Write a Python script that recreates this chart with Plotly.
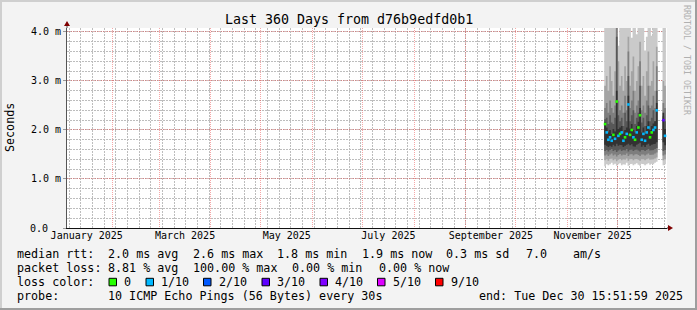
import plotly.graph_objects as go
import pandas as pd

# ---------------- data ----------------
days = ["2025-11-23", "2025-11-24", "2025-11-25", "2025-11-26", "2025-11-27", "2025-11-28",
        "2025-11-29", "2025-11-30", "2025-12-01", "2025-12-02", "2025-12-03", "2025-12-04",
        "2025-12-05", "2025-12-06", "2025-12-07", "2025-12-08", "2025-12-09", "2025-12-10",
        "2025-12-11", "2025-12-12", "2025-12-13", "2025-12-14", "2025-12-15", "2025-12-16",
        "2025-12-17", "2025-12-18", "2025-12-19", "2025-12-20", "2025-12-21", "2025-12-22",
        "2025-12-23", "2025-12-24", "2025-12-28", "2025-12-29"]

median = [2.12, 1.95, 1.80, 1.85, 1.78, 1.90, 1.82, 2.58, 1.88, 1.92, 1.95, 1.78,
          1.85, 1.92, 2.52, 1.90, 2.00, 1.85, 1.80, 1.95, 2.05, 2.30, 1.80, 1.92,
          1.78, 1.95, 2.05, 1.85, 1.95, 2.00, 2.05, 2.40, 2.20, 1.88]
loss = [0, 1, 1, 1, 1, 0, 1, 0, 1, 0, 1, 1,
        0, 1, 1, 0, 0, 1, 0, 1, 0, 0, 1, 1,
        1, 1, 1, 0, 0, 1, 1, 1, 3, 1]

hi1 = [4.5, 4.5, 4.5, 4.5, 4.5, 4.5, 4.5, 4.5, 3.72, 4.5, 4.5, 4.5,
       4.5, 4.5, 4.5, 4.5, 3.88, 4.5, 4.5, 3.95, 4.5, 4.5, 4.5, 4.5,
       3.62, 3.90, 4.5, 4.5, 3.92, 4.5, 4.5, 4.5, 4.5, 4.5]
lo1 = [1.26, 1.30, 1.28, 1.30, 1.33, 1.29, 1.31, 1.27, 1.30, 1.32, 1.28, 1.30,
       1.29, 1.33, 1.27, 1.30, 1.31, 1.28, 1.30, 1.32, 1.29, 1.27, 1.31, 1.30,
       1.28, 1.30, 1.32, 1.29, 1.31, 1.30, 1.33, 1.35, 1.28, 1.30]
hi2 = [2.9, 3.1, 2.8, 3.3, 3.0, 2.7, 3.2, 4.5, 3.4, 2.9, 3.1, 2.8,
       3.3, 3.0, 3.9, 2.9, 3.2, 3.5, 2.8, 3.0, 3.3, 3.8, 2.9, 3.1,
       2.7, 3.2, 3.6, 2.9, 3.0, 3.4, 2.8, 3.7, 3.0, 2.9]
lo2 = [1.38, 1.40, 1.37, 1.41, 1.42, 1.38, 1.40, 1.36, 1.39, 1.41, 1.38, 1.40,
       1.39, 1.42, 1.37, 1.40, 1.41, 1.38, 1.40, 1.41, 1.39, 1.37, 1.40, 1.40,
       1.38, 1.40, 1.42, 1.39, 1.40, 1.40, 1.42, 1.44, 1.38, 1.40]
hi3 = [2.45, 2.55, 2.35, 2.6, 2.45, 2.35, 2.5, 4.2, 2.6, 2.4, 2.5, 2.35,
       2.7, 2.4, 3.6, 2.45, 2.6, 2.8, 2.35, 2.5, 2.6, 3.4, 2.4, 2.5,
       2.35, 2.6, 2.9, 2.45, 2.5, 2.7, 2.45, 3.3, 2.55, 2.45]
lo3 = [1.48, 1.50, 1.47, 1.50, 1.52, 1.48, 1.50, 1.46, 1.49, 1.51, 1.48, 1.50,
       1.49, 1.52, 1.47, 1.50, 1.51, 1.48, 1.50, 1.51, 1.49, 1.47, 1.50, 1.50,
       1.48, 1.50, 1.52, 1.49, 1.50, 1.50, 1.52, 1.54, 1.48, 1.50]
hi4 = [2.22, 2.25, 2.12, 2.30, 2.15, 2.12, 2.25, 3.90, 2.30, 2.18, 2.25, 2.08,
       2.35, 2.18, 3.10, 2.18, 2.30, 2.40, 2.12, 2.25, 2.35, 2.90, 2.15, 2.25,
       2.08, 2.30, 2.50, 2.18, 2.25, 2.40, 2.18, 2.80, 2.28, 2.18]
lo4 = [1.57, 1.59, 1.56, 1.59, 1.61, 1.57, 1.59, 1.55, 1.58, 1.60, 1.57, 1.59,
       1.58, 1.61, 1.56, 1.59, 1.60, 1.57, 1.59, 1.60, 1.58, 1.56, 1.59, 1.59,
       1.57, 1.59, 1.61, 1.58, 1.59, 1.59, 1.61, 1.63, 1.57, 1.59]
hi5 = [2.15, 2.05, 1.95, 2.00, 1.92, 2.02, 1.97, 2.80, 2.02, 2.05, 2.08, 1.93,
       2.00, 2.05, 2.70, 2.03, 2.12, 2.00, 1.95, 2.08, 2.17, 2.45, 1.95, 2.05,
       1.93, 2.08, 2.18, 2.00, 2.08, 2.13, 2.18, 2.55, 2.35, 2.02]
lo5 = [1.70, 1.68, 1.65, 1.68, 1.66, 1.70, 1.67, 1.72, 1.68, 1.70, 1.69, 1.65,
       1.68, 1.70, 1.72, 1.69, 1.71, 1.67, 1.66, 1.70, 1.72, 1.74, 1.66, 1.69,
       1.65, 1.70, 1.72, 1.68, 1.70, 1.71, 1.72, 1.75, 1.75, 1.69]

y_ticks = [0, 1, 2, 3, 4]
y_tick_labels = ["", "1.0 m", "2.0 m", "3.0 m", "4.0 m"]
y_zero_label = "0.0"
label_months = ["2025-01-01", "2025-03-01", "2025-05-01", "2025-07-01", "2025-09-01", "2025-11-01"]
label_texts = ["January 2025", "March 2025", "May 2025", "July 2025", "September 2025", "November 2025"]
x_start = "2025-01-04 15:51:59"
x_end = "2025-12-30 15:51:59"

loss_colors = {0: "#26ff00", 1: "#00b8ff", 2: "#0059ff", 3: "#5e00ff",
               4: "#7e00ff", 5: "#dd00ff", 9: "#ff0000"}
loss_names = ["0", "1/10", "2/10", "3/10", "4/10", "5/10", "9/10"]
loss_keys = [0, 1, 2, 3, 4, 5, 9]

legend_rows = [
    [("median rtt:", 16), ("2.0 ms avg", 107), ("2.6 ms max", 192), ("1.8 ms min", 276),
     ("1.9 ms now", 361), ("0.3 ms sd", 445), ("7.0", 525), ("am/s", 572)],
    [("packet loss:", 16), ("8.81 % avg", 107), ("100.00 % max", 192), ("0.00 % min", 291),
     ("0.00 % now", 378)],
    [("loss color:", 16)],
    [("probe:", 16), ("10 ICMP Echo Pings (56 Bytes) every 30s", 107),
     ("end: Tue Dec 30 15:51:59 2025", 478)],
]
swatch_x = [109, 146, 203.5, 262, 320, 377.5, 435.5]

# ---------------- geometry helpers ----------------
W, H = 697, 310
L, R, T, B = 67, 667, 28, 228
MONO = "DejaVu Sans Mono"


def fx(px):
    return (px - L) / (R - L)


def fy(py):
    return (B - py) / (B - T)


d = pd.to_datetime(days)
one = pd.Timedelta(days=1)

segments = []
cur = [0]
for i in range(1, len(d)):
    if d[i] - d[i - 1] == one:
        cur.append(i)
    else:
        segments.append(cur)
        cur = [i]
segments.append(cur)


def band(lo, hi):
    xs, ys = [], []
    for seg in segments:
        for i in seg:
            xs += [d[i], d[i] + one]
            ys += [hi[i], hi[i]]
        for i in reversed(seg):
            xs += [d[i] + one, d[i]]
            ys += [lo[i], lo[i]]
        xs.append(None)
        ys.append(None)
    return xs, ys


month_starts = [t.strftime("%Y-%m-%d") for t in pd.date_range("2025-01-01", "2026-01-01", freq="MS")]
week_starts = [t.strftime("%Y-%m-%d") for t in pd.date_range("2025-01-06", "2025-12-31", freq="7D")]
lab_dates = pd.to_datetime(label_months)
lab_mid = [(m + (m + pd.offsets.MonthBegin(1) - m) / 2).strftime("%Y-%m-%d %H:%M:%S") for m in lab_dates]

fig = go.Figure()
# dummy traces so that the overlay axes are drawn
fig.add_trace(go.Scatter(x=[week_starts[0]], y=[None], xaxis="x", showlegend=False, hoverinfo="skip"))
fig.add_trace(go.Scatter(x=[month_starts[1]], y=[None], xaxis="x3", showlegend=False, hoverinfo="skip"))
fig.add_trace(go.Scatter(x=[lab_mid[0]], y=[None], xaxis="x2", showlegend=False, hoverinfo="skip"))

shades = ["#cacaca", "#a4a4a4", "#7e7e7e", "#585858", "#323232"]
for (lo, hi), col in zip([(lo1, hi1), (lo2, hi2), (lo3, hi3), (lo4, hi4), (lo5, hi5)], shades):
    xs, ys = band(lo, hi)
    fig.add_trace(go.Scatter(x=xs, y=ys, mode="lines", fill="toself", fillcolor=col,
                             line=dict(width=0, color=col), hoverinfo="skip", showlegend=False))

fig.add_trace(go.Scatter(x=d + one / 2, y=median, mode="markers",
                         marker=dict(symbol="square", size=2.6, color=[loss_colors[v] for v in loss],
                                     line=dict(width=0)),
                         hoverinfo="skip", showlegend=False))

grid_minor = "#bdbdbd"
grid_major = "rgba(235,60,60,0.45)"

fig.update_layout(
    width=W, height=H,
    margin=dict(l=L, r=W - R, t=T, b=H - B, pad=0),
    paper_bgcolor="#f3f3f3", plot_bgcolor="#ffffff",
    showlegend=False,
    xaxis=dict(type="date", range=[x_start, x_end], tickmode="array", tickvals=week_starts,
               ticktext=["" for _ in week_starts],
               showticklabels=True, ticks="", showgrid=True, gridcolor=grid_minor,
               griddash="2px,1px", gridwidth=1, zeroline=False,
               showline=True, linecolor="#111111", linewidth=1),
    xaxis3=dict(type="date", overlaying="x", anchor="y", side="bottom", range=[x_start, x_end],
                tickmode="array", tickvals=month_starts, ticktext=["" for _ in month_starts],
                ticks="", showgrid=True, gridcolor=grid_major, griddash="1px,1px", gridwidth=1,
                showline=False, zeroline=False),
    xaxis2=dict(type="date", overlaying="x", anchor="y", side="bottom", range=[x_start, x_end],
                tickmode="array", tickvals=lab_mid, ticktext=label_texts, showgrid=False,
                showline=False, zeroline=False, ticks="",
                tickfont=dict(family=MONO, size=10, color="#000000")),
    yaxis=dict(range=[0, 4.08], tickmode="array", tickvals=y_ticks, ticktext=y_tick_labels,
               showgrid=True, gridcolor=grid_major, griddash="1px,1px", gridwidth=1,
               zeroline=False, showline=True, linecolor="#555555", linewidth=1,
               ticks="outside", ticklen=3, tickcolor="#999999",
               tickfont=dict(family=MONO, size=10, color="#000000"),
               minor=dict(dtick=0.2, showgrid=True, gridcolor=grid_minor,
                          griddash="2px,1px", gridwidth=1, ticks="")),
)

shapes = []
# frame shading
shapes.append(dict(type="rect", xref="paper", yref="paper", x0=fx(0), x1=fx(W), y0=fy(0), y1=fy(2),
                   fillcolor="#cfcfcf", line=dict(width=0), layer="above"))
shapes.append(dict(type="rect", xref="paper", yref="paper", x0=fx(0), x1=fx(2), y0=fy(0), y1=fy(H),
                   fillcolor="#cfcfcf", line=dict(width=0), layer="above"))
shapes.append(dict(type="rect", xref="paper", yref="paper", x0=fx(W - 2), x1=fx(W), y0=fy(0), y1=fy(H),
                   fillcolor="#9e9e9e", line=dict(width=0), layer="above"))
shapes.append(dict(type="rect", xref="paper", yref="paper", x0=fx(0), x1=fx(W), y0=fy(H - 2), y1=fy(H),
                   fillcolor="#9e9e9e", line=dict(width=0), layer="above"))
# axis extensions + arrows
shapes.append(dict(type="line", xref="paper", yref="paper", x0=fx(L), x1=fx(L), y0=fy(T), y1=fy(24),
                   line=dict(color="#555555", width=1)))
shapes.append(dict(type="path", xref="paper", yref="paper",
                   path=f"M {fx(64)} {fy(26)} L {fx(70)} {fy(26)} L {fx(67)} {fy(21)} Z",
                   fillcolor="#7f0000", line=dict(width=0)))
shapes.append(dict(type="line", xref="paper", yref="paper", x0=fx(R), x1=fx(670), y0=fy(B), y1=fy(B),
                   line=dict(color="#111111", width=1)))
shapes.append(dict(type="path", xref="paper", yref="paper",
                   path=f"M {fx(668)} {fy(225)} L {fx(668)} {fy(231)} L {fx(673)} {fy(B)} Z",
                   fillcolor="#7f0000", line=dict(width=0)))
# loss colour swatches
for sx, key in zip(swatch_x, loss_keys):
    shapes.append(dict(type="rect", xref="paper", yref="paper", x0=fx(sx), x1=fx(sx + 7.5),
                       y0=fy(285.8), y1=fy(278.3), fillcolor=loss_colors[key],
                       line=dict(color="#000000", width=1)))
fig.update_layout(shapes=shapes)

ann = []
ann.append(dict(text="Last 360 Days from d76b9edfd0b1", x=fx(348.5), y=fy(19), xref="paper", yref="paper",
                showarrow=False, xanchor="center", yanchor="middle",
                font=dict(family=MONO, size=13.3, color="#000000")))
ann.append(dict(text="Seconds", x=fx(10), y=fy(128), xref="paper", yref="paper", textangle=-90,
                showarrow=False, xanchor="center", yanchor="middle",
                font=dict(family=MONO, size=11.7, color="#000000")))
ann.append(dict(text="RRDTOOL / TOBI OETIKER", x=fx(687), y=fy(60), xref="paper", yref="paper",
                textangle=90, showarrow=False, xanchor="center", yanchor="middle",
                font=dict(family=MONO, size=8.3, color="#b0b0b0")))
ann.append(dict(text=y_zero_label, x=fx(48.5), y=0, xref="paper", yref="y",
                showarrow=False, xanchor="right", yanchor="middle", borderpad=0,
                font=dict(family=MONO, size=10, color="#000000")))
row_y = [254, 268, 282, 296]
for row, yy in zip(legend_rows, row_y):
    for txt, xx in row:
        ann.append(dict(text=txt.replace(" ", "&nbsp;"), x=fx(xx), y=fy(yy), xref="paper", yref="paper",
                        showarrow=False, xanchor="left", yanchor="middle", borderpad=0,
                        font=dict(family=MONO, size=11.7, color="#000000")))
for sx, name in zip(swatch_x, loss_names):
    ann.append(dict(text=name, x=fx(sx + 14), y=fy(282), xref="paper", yref="paper",
                    showarrow=False, xanchor="left", yanchor="middle", borderpad=0,
                    font=dict(family=MONO, size=11.7, color="#000000")))
fig.update_layout(annotations=ann)

fig.write_html("out.html")
